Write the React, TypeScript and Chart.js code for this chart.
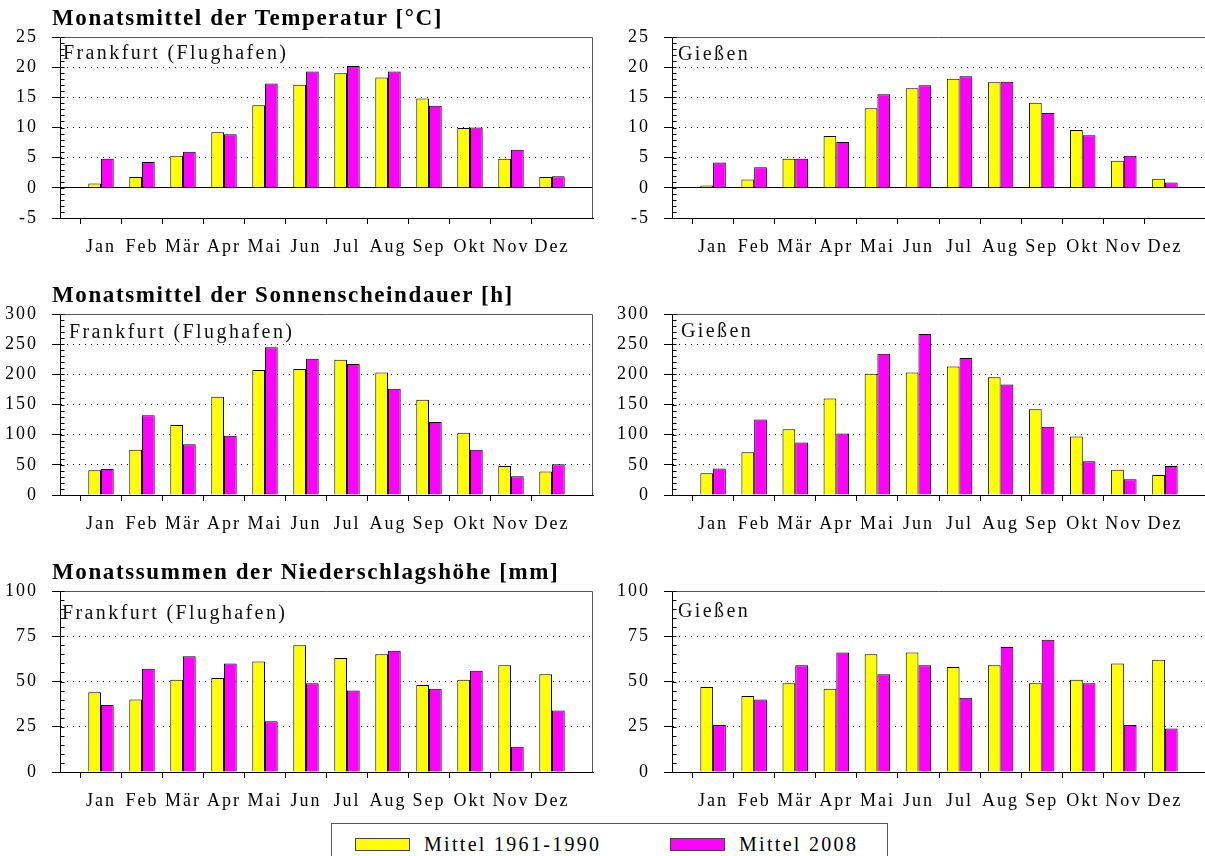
import React, { useEffect, useRef } from 'react';
import { Chart, registerables } from 'chart.js';

Chart.register(...registerables);

// ---------- data ----------
const months = ['Jan', 'Feb', 'Mär', 'Apr', 'Mai', 'Jun', 'Jul', 'Aug', 'Sep', 'Okt', 'Nov', 'Dez'];
const seriesNames = ['Mittel 1961-1990', 'Mittel 2008'];
const titles = [
  'Monatsmittel der Temperatur [°C]',
  'Monatsmittel der Sonnenscheindauer [h]',
  'Monatssummen der Niederschlagshöhe [mm]',
];
const stations = ['Frankfurt (Flughafen)', 'Gießen'];

const ffmTempNormal = [0.7, 1.8, 5.3, 9.2, 13.7, 17.1, 19.0, 18.3, 14.8, 9.9, 4.8, 1.8];
const ffmTemp2008 = [4.8, 4.3, 6.0, 8.9, 17.3, 19.3, 20.2, 19.3, 13.6, 10.0, 6.3, 1.9];
const giTempNormal = [0.4, 1.4, 4.8, 8.6, 13.2, 16.5, 18.1, 17.5, 14.1, 9.6, 4.5, 1.5];
const giTemp2008 = [4.2, 3.4, 4.8, 7.6, 15.5, 17.0, 18.5, 17.6, 12.4, 8.7, 5.3, 0.9];

const ffmSunNormal = [41, 75, 116, 163, 207, 209, 224, 203, 158, 103, 48, 39];
const ffmSun2008 = [43, 132, 84, 98, 245, 226, 217, 176, 121, 75, 31, 51];
const giSunNormal = [36, 71, 109, 160, 201, 203, 213, 195, 142, 97, 42, 33];
const giSun2008 = [44, 125, 87, 102, 234, 267, 227, 183, 113, 56, 26, 48];

const ffmRainNormal = [44, 40, 51, 52, 61, 70, 63, 65, 48, 51, 59, 54];
const ffmRain2008 = [37, 57, 64, 60, 28, 49, 45, 67, 46, 56, 14, 34];
const giRainNormal = [47, 42, 49, 46, 65, 66, 58, 59, 49, 51, 60, 62];
const giRain2008 = [26, 40, 59, 66, 54, 59, 41, 69, 73, 49, 26, 24];

const tempAxis = { min: -5, max: 25, step: 5, minor: 1 };
const sunAxis = { min: 0, max: 300, step: 50, minor: 10 };
const rainAxis = { min: 0, max: 100, step: 25, minor: 5 };

// ---------- layout / style ----------
const YELLOW = '#ffff00';
const MAGENTA = '#ff00ff';
const FONT = "'Liberation Serif', 'Times New Roman', serif";
const PAD_TOP = 12;
const AREA_H = 181;
const XAXIS_H = 40;
const CANVAS_H = PAD_TOP + AREA_H + XAXIS_H;
const ROW_TOPS = [37, 314, 591];

type PanelDef = {
  normal: number[];
  recent: number[];
  axis: { min: number; max: number; step: number; minor: number };
  left: number;
  width: number;
  axisW: number;
  padRight: number;
  row: number;
  station: string;
  labelLeft: number;
  labelTop: number;
};

const LEFT_COL = { left: 0, width: 600, axisW: 60, padRight: 7 };
const RIGHT_COL = { left: 600, width: 606, axisW: 72, padRight: 0 };

const panels: PanelDef[] = [
  { normal: ffmTempNormal, recent: ffmTemp2008, axis: tempAxis, ...LEFT_COL, row: 0, station: stations[0], labelLeft: 63, labelTop: 42 },
  { normal: giTempNormal, recent: giTemp2008, axis: tempAxis, ...RIGHT_COL, row: 0, station: stations[1], labelLeft: 678, labelTop: 43 },
  { normal: ffmSunNormal, recent: ffmSun2008, axis: sunAxis, ...LEFT_COL, row: 1, station: stations[0], labelLeft: 69, labelTop: 321 },
  { normal: giSunNormal, recent: giSun2008, axis: sunAxis, ...RIGHT_COL, row: 1, station: stations[1], labelLeft: 681, labelTop: 320 },
  { normal: ffmRainNormal, recent: ffmRain2008, axis: rainAxis, ...LEFT_COL, row: 2, station: stations[0], labelLeft: 62, labelTop: 602 },
  { normal: giRainNormal, recent: giRain2008, axis: rainAxis, ...RIGHT_COL, row: 2, station: stations[1], labelLeft: 678, labelTop: 600 },
];

const TRANSPARENT = 'rgba(0,0,0,0)';

function BarPanel({ p }: { p: PanelDef }) {
  const ref = useRef<HTMLCanvasElement>(null);
  useEffect(() => {
    const canvas = ref.current;
    if (!canvas) return;
    const { min, max, step, minor } = p.axis;
    const labels = ['', ...months, ''];
    const pad = (arr: number[]) => [null, ...arr, null];

    const spacing = {
      id: 'letterSpacing',
      beforeLayout(chart: any) {
        chart.ctx.letterSpacing = '2px';
      },
      beforeDraw(chart: any) {
        chart.ctx.letterSpacing = '2px';
      },
    };
    const frame = {
      id: 'frameAndMinorTicks',
      afterDraw(chart: any) {
        const { ctx, chartArea } = chart;
        const { left, top, right, bottom } = chartArea;
        ctx.save();
        ctx.setLineDash([]);
        ctx.lineWidth = 1;
        ctx.strokeStyle = '#555555';
        ctx.beginPath();
        ctx.moveTo(left, Math.round(top) + 0.5);
        ctx.lineTo(Math.round(right) - 0.5, Math.round(top) + 0.5);
        ctx.lineTo(Math.round(right) - 0.5, bottom);
        ctx.stroke();
        const y = chart.scales.y;
        ctx.strokeStyle = '#000000';
        ctx.beginPath();
        const x0 = Math.round(left) + 0.5;
        for (let v = min; v <= max + 1e-9; v += minor) {
          const py = Math.round(y.getPixelForValue(v)) + 0.5;
          ctx.moveTo(x0, py);
          ctx.lineTo(x0 + 4, py);
        }
        ctx.stroke();
        ctx.restore();
      },
    };

    const chart = new Chart(canvas, {
      type: 'bar',
      data: {
        labels,
        datasets: [
          {
            label: seriesNames[0],
            data: pad(p.normal),
            backgroundColor: YELLOW,
            borderColor: '#000000',
            borderWidth: 1,
            categoryPercentage: 0.62,
            barPercentage: 1,
          },
          {
            label: seriesNames[1],
            data: pad(p.recent),
            backgroundColor: MAGENTA,
            borderColor: '#000000',
            borderWidth: 1,
            categoryPercentage: 0.62,
            barPercentage: 1,
          },
        ],
      },
      options: {
        animation: false,
        responsive: false,
        maintainAspectRatio: false,
        devicePixelRatio: 1,
        layout: { padding: { top: PAD_TOP, right: p.padRight, left: 0, bottom: 0 } },
        plugins: {
          legend: { display: false },
          tooltip: { enabled: false },
          title: { display: false },
        },
        scales: {
          x: {
            type: 'category',
            offset: false,
            grid: {
              display: true,
              drawOnChartArea: false,
              drawTicks: true,
              tickLength: 6,
              color: TRANSPARENT,
              tickColor: (c: any) =>
                c.index === 0 || c.index === labels.length - 1 ? TRANSPARENT : '#000000',
            },
            border: { display: true, color: '#000000', width: 1 },
            ticks: {
              autoSkip: false,
              maxRotation: 0,
              minRotation: 0,
              padding: 12,
              color: '#000000',
              font: { family: FONT, size: 18 },
            },
            afterFit: (s: any) => {
              s.height = XAXIS_H;
              s.paddingLeft = 0;
              s.paddingRight = 0;
            },
          },
          y: {
            min,
            max,
            grid: {
              display: true,
              drawOnChartArea: true,
              drawTicks: true,
              tickLength: 8,
              lineWidth: 1,
              color: (c: any) => {
                const v = c.tick ? c.tick.value : null;
                if (v === max) return TRANSPARENT;
                return '#000000';
              },
              tickColor: '#000000',
            },
            border: {
              display: true,
              color: '#000000',
              width: 1,
              dash: (c: any) => {
                const v = c.tick ? c.tick.value : null;
                if (v === null || v === 0 || v === min || v === max) return [];
                return [1, 5];
              },
            },
            ticks: {
              stepSize: step,
              padding: 14,
              color: '#000000',
              font: { family: FONT, size: 18 },
            },
            afterFit: (s: any) => {
              s.width = p.axisW;
              s.paddingTop = 0;
              s.paddingBottom = 0;
            },
          },
        },
      },
      plugins: [spacing, frame],
    } as any);
    return () => chart.destroy();
  }, [p]);

  return (
    <canvas
      ref={ref}
      width={p.width}
      height={CANVAS_H}
      style={{
        position: 'absolute',
        left: p.left,
        top: ROW_TOPS[p.row] - PAD_TOP,
        width: p.width,
        height: CANVAS_H,
      }}
    />
  );
}

export default function App() {
  return (
    <div
      style={{
        position: 'absolute',
        left: 0,
        top: 0,
        width: 1205,
        height: 856,
        overflow: 'hidden',
        background: '#ffffff',
        fontFamily: FONT,
        color: '#000',
      }}
    >
      {panels.map((p, i) => (
        <BarPanel key={i} p={p} />
      ))}
      {titles.map((t, i) => (
        <div
          key={'t' + i}
          style={{
            position: 'absolute',
            left: 52,
            top: 6 + i * 277,
            fontSize: 23,
            lineHeight: '23px',
            fontWeight: 'bold',
            letterSpacing: '1.6px',
            whiteSpace: 'nowrap',
          }}
        >
          {t}
        </div>
      ))}
      {panels.map((p, i) => (
        <div
          key={'s' + i}
          style={{
            position: 'absolute',
            left: p.labelLeft,
            top: p.labelTop,
            fontSize: 20,
            lineHeight: '20px',
            letterSpacing: '2.4px',
            whiteSpace: 'nowrap',
            color: '#111',
          }}
        >
          {p.station}
        </div>
      ))}
      <div
        style={{
          position: 'absolute',
          left: 331,
          top: 823,
          width: 557,
          height: 50,
          border: '1px solid #555',
          boxSizing: 'border-box',
        }}
      />
      {[YELLOW, MAGENTA].map((c, i) => (
        <React.Fragment key={'l' + i}>
          <div
            style={{
              position: 'absolute',
              left: i === 0 ? 355 : 670,
              top: 838,
              width: 55,
              height: 13,
              background: c,
              border: '1px solid #444',
              boxSizing: 'border-box',
            }}
          />
          <div
            style={{
              position: 'absolute',
              left: i === 0 ? 424 : 739,
              top: 834,
              fontSize: 20,
              lineHeight: '20px',
              letterSpacing: '2.3px',
              whiteSpace: 'nowrap',
            }}
          >
            {seriesNames[i]}
          </div>
        </React.Fragment>
      ))}
    </div>
  );
}
